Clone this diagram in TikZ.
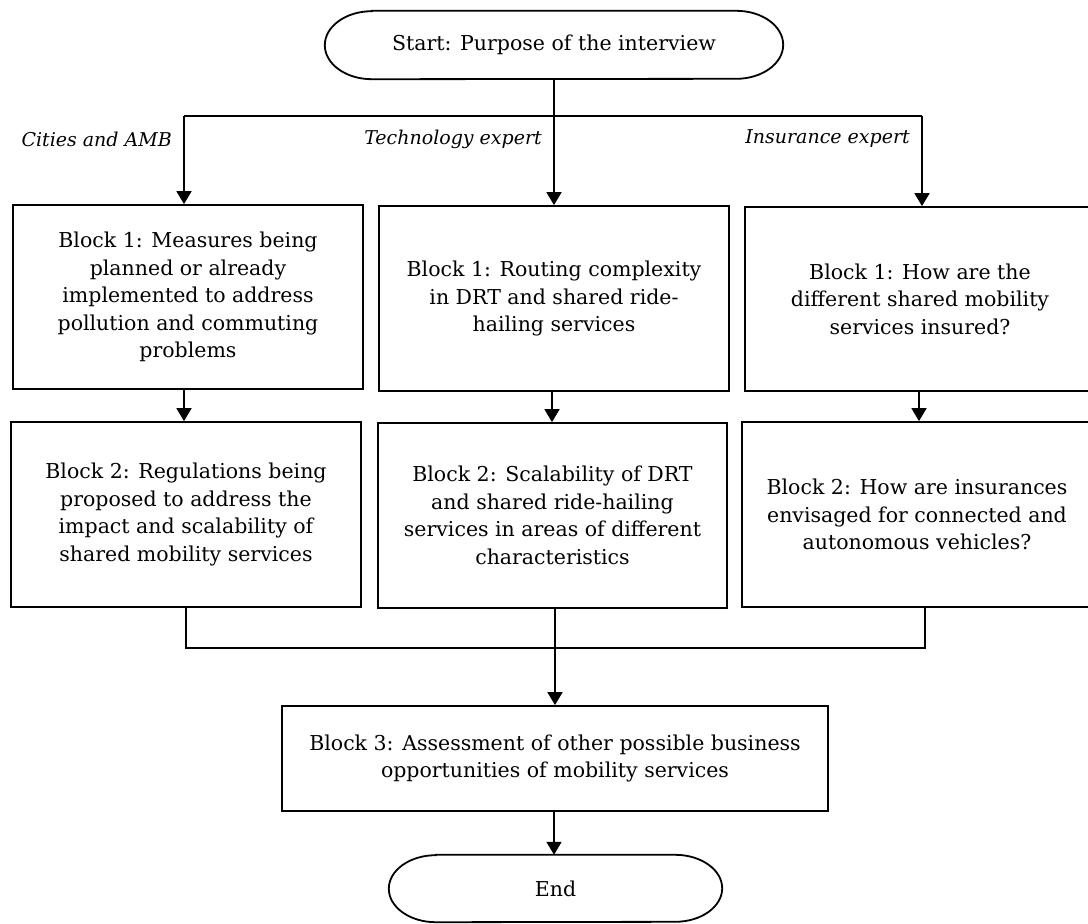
\documentclass[tikz,border=0pt]{standalone}
\usepackage{fontspec}
\setmainfont{DejaVu Serif}
\usetikzlibrary{arrows.meta}
\begin{document}
\begin{tikzpicture}[x=1pt,y=-1pt,
  every node/.style={inner sep=0pt, font=\fontsize{20.5}{27.5}\selectfont},
  blockbox/.style={draw, line width=1.8pt, align=center},
  terminal/.style={align=center},
  termline/.style={line width=1.8pt},
  arr/.style={line width=1.8pt, -{Triangle[width=15pt,length=13pt]}},
  link/.style={line width=1.8pt},
  merge/.style={line width=1.2pt},
  branch/.style={anchor=east, font=\fontsize{19}{22}\selectfont\itshape}]
\useasboundingbox (0,0) rectangle (1088,924);

% terminals
\node[terminal, minimum width=458pt, minimum height=68pt] (start) at (554,45) {Start: Purpose of the interview};
\draw[termline] ([xshift=47pt]start.north west) -- ([xshift=-47pt]start.north east)
  arc[start angle=90, end angle=-90, x radius=47pt, y radius=34pt]
  -- ([xshift=47pt]start.south west)
  arc[start angle=270, end angle=90, x radius=47pt, y radius=34pt] -- cycle;

\node[terminal, minimum width=333pt, minimum height=67pt] (end) at (555.5,888.5) {End};
\draw[termline] ([xshift=47pt]end.north west) -- ([xshift=-47pt]end.north east)
  arc[start angle=90, end angle=-90, x radius=47pt, y radius=33.5pt]
  -- ([xshift=47pt]end.south west)
  arc[start angle=270, end angle=90, x radius=47pt, y radius=33.5pt] -- cycle;

% first blocks
\node[blockbox, minimum width=350pt, minimum height=184pt] (c1b1) at (188,297)
  {Block 1: Measures being\\planned or already\\implemented to address\\pollution and commuting\\problems};
\node[blockbox, minimum width=350pt, minimum height=185pt] (c2b1) at (554,298.5)
  {Block 1: Routing complexity\\in DRT and shared ride-\\hailing services};
\node[blockbox, minimum width=350pt, minimum height=184pt] (c3b1) at (920,299)
  {Block 1: How are the\\different shared mobility\\services insured?};

% second blocks
\node[blockbox, minimum width=350pt, minimum height=185pt] (c1b2) at (186,514.5)
  {Block 2: Regulations being\\proposed to address the\\impact and scalability of\\shared mobility services};
\node[blockbox, minimum width=349pt, minimum height=185pt] (c2b2) at (552.5,515.5)
  {Block 2: Scalability of DRT\\and shared ride-hailing\\services in areas of different\\characteristics};
\node[blockbox, minimum width=350pt, minimum height=185pt] (c3b2) at (917,514.5)
  {Block 2: How are insurances\\envisaged for connected and\\autonomous vehicles?};

% closing block
\node[blockbox, minimum width=546pt, minimum height=105pt] (b3) at (555,758.5)
  {Block 3: Assessment of other possible business\\opportunities of mobility services};

% split below the start
\coordinate (sp) at (554,116);
\coordinate (sl) at (184,116);
\coordinate (sr) at (922,116);
\draw[link] (start.south) -- (sp);
\draw[link] (sl) -- (sr);
\draw[arr] (sl) -- (sl |- c1b1.north);
\draw[arr] (sp) -- (sp |- c2b1.north);
\draw[arr] (sr) -- (sr |- c3b1.north);

% branch labels
\node[branch] (l1) at (172,139) {Cities and AMB};
\node[branch] (l2) at (542,139) {Technology expert};
\node[branch] (l3) at (910,139) {Insurance expert};

% block 1 to block 2
\draw[arr] ([xshift=-4pt]c1b1.south) -- ([xshift=-4pt]c1b1.south |- c1b2.north);
\draw[arr] ([xshift=-2pt]c2b1.south) -- ([xshift=-2pt]c2b1.south |- c2b2.north);
\draw[arr] ([xshift=-1pt]c3b1.south) -- ([xshift=-1pt]c3b1.south |- c3b2.north);

% merge into block 3
\draw[merge] (c1b2.south) -- ++(0,40) -| ([xshift=8pt]c3b2.south);
\draw[arr] ([xshift=2.5pt]c2b2.south) -- ([xshift=2.5pt]c2b2.south |- b3.north);
\draw[arr] ([xshift=-1pt]b3.south) -- ([xshift=-1pt]b3.south |- end.north);
\end{tikzpicture}
\end{document}
